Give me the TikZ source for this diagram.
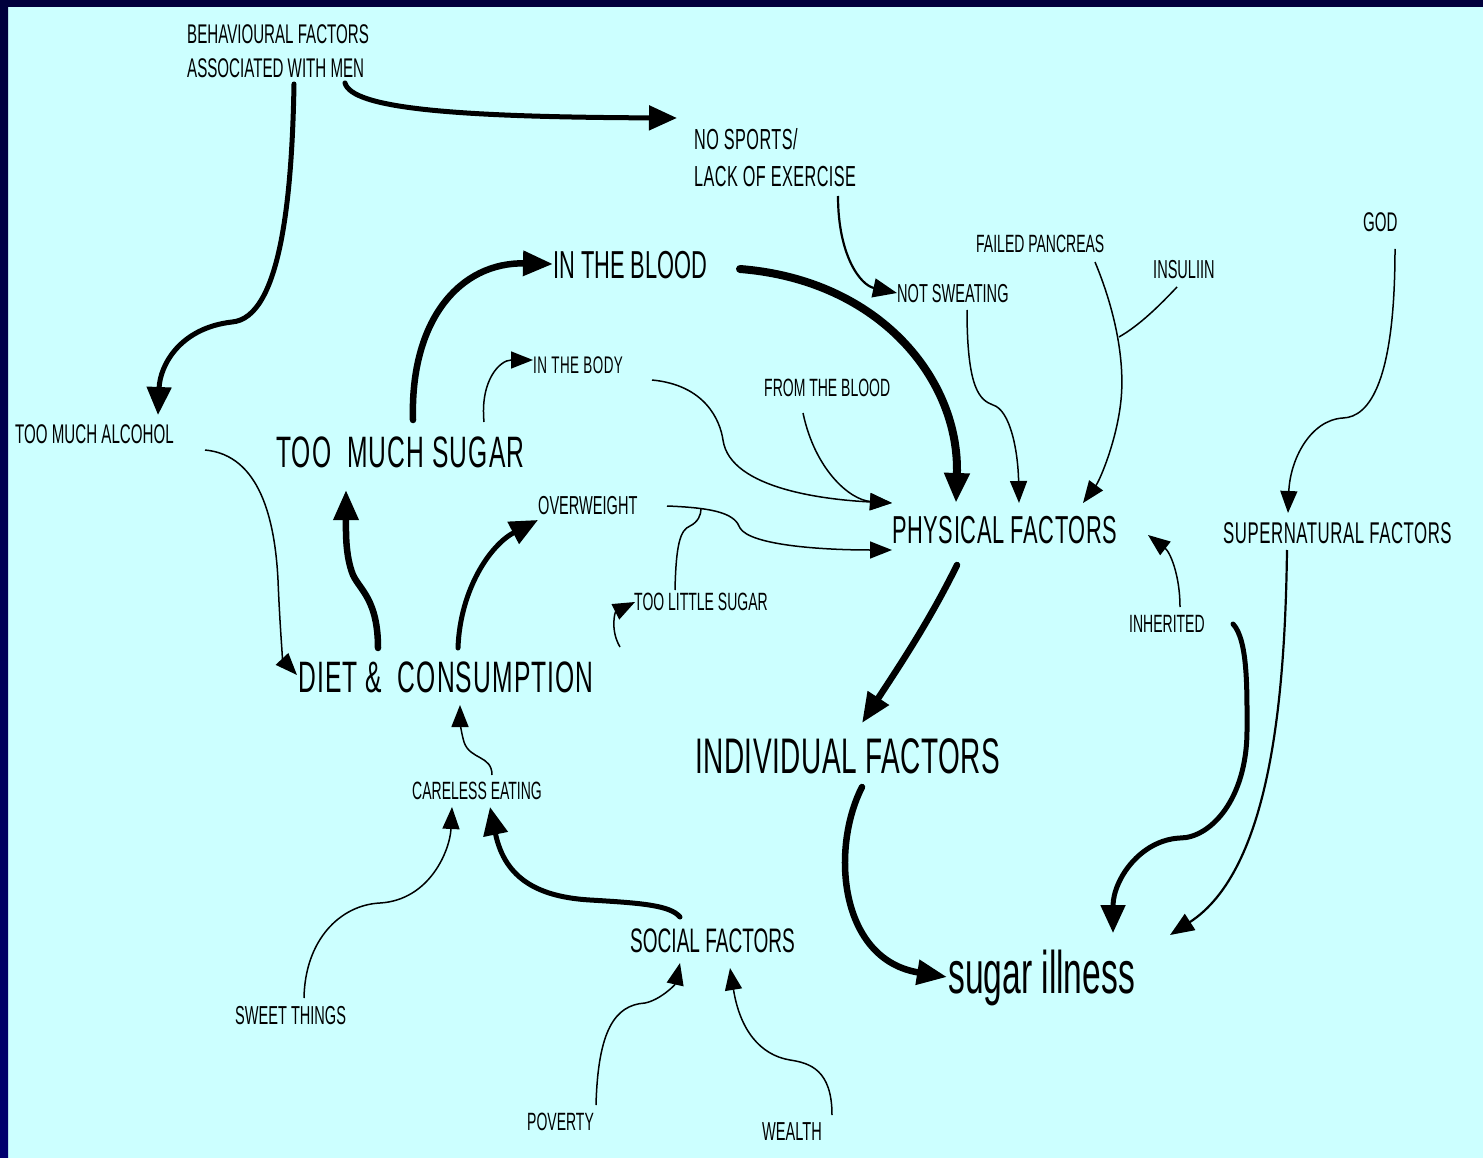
\documentclass[tikz,border=0pt]{standalone}
\usepackage{fontspec}
\setmainfont{Liberation Sans}[FakeStretch=0.56]
\usetikzlibrary{arrows.meta}
\definecolor{bgcyan}{HTML}{CCFFFF}
\definecolor{navytop}{HTML}{00003C}
\definecolor{navybot}{HTML}{00006E}
\newcommand{\fsz}[1]{\fontsize{#1}{#1}\selectfont}
\newcommand{\track}[1]{\addfontfeatures{LetterSpace=#1}}
\tikzset{
  lbl/.style={inner sep=0pt, anchor=base west, text=black},
  lbltwo/.style={inner sep=0pt, anchor=north west, text=black, align=left},
  fine/.style={line width=1.5pt, -{Triangle[length=22pt,width=17pt]}},
  fineplain/.style={line width=1.5pt},
  medium/.style={line width=2.2pt, -{Triangle[length=24pt,width=19pt]}},
  heavy/.style={line width=5pt, line cap=round, -{Triangle[length=28pt,width=24pt]}},
  heavier/.style={line width=6.5pt, line cap=round, -{Triangle[length=30pt,width=24pt]}},
}
\begin{document}
\begin{tikzpicture}[x=1pt,y=-1pt]
\useasboundingbox (0,0) rectangle (1483,1158);
\fill[bgcyan] (0,0) rectangle (1483,1158);
\shade[top color=navytop, bottom color=navybot] (0,0) rectangle (8,1158);
\fill[navytop] (0,0) rectangle (1483,7);

% labels
\node[lbltwo, font=\fontsize{27}{34}\selectfont] (behav) at (187,24) {BEHAVIOURAL FACTORS\\ASSOCIATED WITH MEN};
\node[lbltwo, font=\fontsize{29}{37}\selectfont\track{1.5}] (nosport) at (694,128) {NO SPORTS/\\LACK OF EXERCISE};
\node[lbl, font=\fsz{39}] (blood) at (553,279) {IN THE BLOOD};
\node[lbl, font=\fsz{26}] (sweat) at (897,302) {NOT SWEATING};
\node[lbl, font=\fsz{25}] (pancreas) at (976,253) {FAILED PANCREAS};
\node[lbl, font=\fsz{26}] (insulin) at (1153,279) {INSULIIN};
\node[lbl, font=\fsz{27}] (god) at (1363,232) {GOD};
\node[lbl, font=\fsz{24}\track{2}] (body) at (533,373) {IN THE BODY};
\node[lbl, font=\fsz{25}] (fromblood) at (764,396) {FROM THE BLOOD};
\node[lbl, font=\fsz{27}] (alcohol) at (15,443) {TOO MUCH ALCOHOL};
\node[lbl, font=\fsz{44}\track{2.5}] (muchsugar) at (276,467) {TOO\ \ MUCH SUGAR};
\node[lbl, font=\fsz{26}] (overweight) at (538,514) {OVERWEIGHT};
\node[lbl, font=\fsz{39}\track{1.5}] (physical) at (892,543) {PHYSICAL FACTORS};
\node[lbl, font=\fsz{30}\track{1.8}] (supernat) at (1223,543) {SUPERNATURAL FACTORS};
\node[lbl, font=\fsz{25}] (littlesugar) at (634,610) {TOO LITTLE SUGAR};
\node[lbl, font=\fsz{25}] (inherited) at (1129,632) {INHERITED};
\node[lbl, font=\fsz{44}\track{2.5}] (diet) at (298,692) {DIET \&\ \ CONSUMPTION};
\node[lbl, font=\fsz{50}\track{1}] (individual) at (695,773) {INDIVIDUAL FACTORS};
\node[lbl, font=\fsz{25}] (careless) at (412,799) {CARELESS EATING};
\node[lbl, font=\fsz{34}] (social) at (630,952) {SOCIAL FACTORS};
\node[lbl, font=\fsz{60}] (illness) at (948,993) {sugar illness};
\node[lbl, font=\fsz{26}] (sweet) at (235,1024) {SWEET THINGS};
\node[lbl, font=\fsz{25}] (poverty) at (527,1130) {POVERTY};
\node[lbl, font=\fsz{26}] (wealth) at (762,1140) {WEALTH};

% connector ports
\coordinate (behavA) at (294,84);
\coordinate (behavB) at (345,83);
\coordinate (alcoholIn) at (158,415);
\coordinate (nosportIn) at (677,118);
\coordinate (nosportOut) at (838,196);
\coordinate (sweatIn) at (897,293);
\coordinate (sweatOut) at (967,310);
\coordinate (muchsugarOutA) at (413,420);
\coordinate (muchsugarOutB) at (484,422);
\coordinate (muchsugarIn) at (346,490);
\coordinate (bloodIn) at (553,264);
\coordinate (bloodOut) at (740,269);
\coordinate (bodyIn) at (533,360);
\coordinate (bodyOut) at (652,380);
\coordinate (fromOut) at (803,413);
\coordinate (physInA) at (892,503);
\coordinate (physInB) at (956,503);
\coordinate (physInC) at (1019,503);
\coordinate (physInD) at (1083,503);
\coordinate (physInE) at (892,550);
\coordinate (physInF) at (1148,535);
\coordinate (physOut) at (957,565);
\coordinate (pancOut) at (1095,262);
\coordinate (insOut) at (1177,287);
\coordinate (insJoin) at (1119,337);
\coordinate (godOut) at (1395,249);
\coordinate (superIn) at (1288,513);
\coordinate (superOut) at (1287,550);
\coordinate (inhOutA) at (1180,607);
\coordinate (inhOutB) at (1233,624);
\coordinate (illInA) at (1113,933);
\coordinate (illInB) at (1170,935);
\coordinate (illInC) at (947,977);
\coordinate (indivIn) at (862,723);
\coordinate (indivOut) at (862,787);
\coordinate (owOut) at (667,506);
\coordinate (owJoin) at (701,509);
\coordinate (owIn) at (538,520);
\coordinate (littleOut) at (675,590);
\coordinate (littleIn) at (635,602);
\coordinate (dietOutA) at (378,648);
\coordinate (dietOutB) at (458,648);
\coordinate (dietOutC) at (620,647);
\coordinate (dietIn) at (460,705);
\coordinate (dietInW) at (297,675);
\coordinate (alcoholOut) at (205,450);
\coordinate (carelessOut) at (492,775);
\coordinate (carelessInA) at (452,807);
\coordinate (carelessInB) at (490,807);
\coordinate (sweetOut) at (304,998);
\coordinate (socialOut) at (680,917);
\coordinate (socialInA) at (680,963);
\coordinate (socialInB) at (730,968);
\coordinate (povOut) at (596,1105);
\coordinate (wealthOut) at (832,1115);

% connectors
\draw[heavy] (behavA) .. controls (292,200) and (280,318) .. (232,322) .. controls (180,328) and (160,365) .. (alcoholIn);
\draw[heavy] (behavB) .. controls (352,108) and (450,117) .. (nosportIn);
\draw[medium] (nosportOut) .. controls (838,255) and (860,285) .. (sweatIn);
\draw[heavier] (muchsugarOutA) .. controls (410,320) and (460,262) .. (bloodIn);
\draw[line width=8pt, line cap=round, -{Triangle[length=30pt,width=24pt]}] (bloodOut) .. controls (880,280) and (960,380) .. (physInB);
\draw[fine] (muchsugarOutB) .. controls (480,380) and (500,360) .. (bodyIn);
\draw[fine] (bodyOut) .. controls (705,385) and (720,420) .. (723,440) .. controls (730,490) and (830,500) .. (physInA);
\draw[fine] (fromOut) .. controls (815,470) and (850,500) .. (physInA);
\draw[fine] (sweatOut) .. controls (967,390) and (980,400) .. (993,405) .. controls (1010,410) and (1018,450) .. (physInC);
\draw[fine] (pancOut) .. controls (1115,310) and (1125,360) .. (1121,400) .. controls (1117,440) and (1100,480) .. (physInD);
\draw[fineplain] (insOut) .. controls (1160,305) and (1140,325) .. (insJoin);
\draw[fine] (godOut) .. controls (1395,380) and (1370,417) .. (1343,418) .. controls (1310,420) and (1290,460) .. (superIn);
\draw[fine] (inhOutA) .. controls (1180,575) and (1170,552) .. (physInF);
\draw[heavy] (inhOutB) .. controls (1248,640) and (1247,690) .. (1247,730) .. controls (1247,800) and (1210,838) .. (1180,838) .. controls (1140,840) and (1113,880) .. (illInA);
\draw[medium] (superOut) .. controls (1285,700) and (1270,870) .. (illInB);
\draw[heavier] (physOut) .. controls (930,620) and (900,665) .. (indivIn);
\draw[heavier] (indivOut) .. controls (830,850) and (840,960) .. (illInC);
\draw[fine] (owOut) .. controls (720,508) and (735,515) .. (740,528) .. controls (750,545) and (820,550) .. (physInE);
\draw[fineplain] (littleOut) .. controls (676,545) and (680,530) .. (690,526) .. controls (698,522) and (701,515) .. (owJoin);
\draw[fine] (dietOutC) .. controls (610,630) and (615,612) .. (littleIn);
\draw[heavier] (dietOutA) .. controls (378,600) and (360,590) .. (353,575) .. controls (345,555) and (346,530) .. (muchsugarIn);
\draw[heavy] (dietOutB) .. controls (460,590) and (490,545) .. (owIn);
\draw[fine] (alcoholOut) .. controls (260,455) and (275,520) .. (278,580) .. controls (280,630) and (283,660) .. (dietInW);
\draw[fine] (carelessOut) .. controls (492,755) and (470,760) .. (464,742) .. controls (461,732) and (460,720) .. (dietIn);
\draw[fine] (sweetOut) .. controls (305,940) and (340,905) .. (380,903) .. controls (430,900) and (450,850) .. (carelessInA);
\draw[heavy] (socialOut) .. controls (670,905) and (640,903) .. (590,900) .. controls (540,897) and (505,880) .. (carelessInB);
\draw[fine] (povOut) .. controls (598,1030) and (615,1005) .. (645,1003) .. controls (660,1000) and (675,985) .. (socialInA);
\draw[fine] (wealthOut) .. controls (832,1070) and (810,1063) .. (790,1060) .. controls (760,1055) and (740,1030) .. (socialInB);
\end{tikzpicture}
\end{document}
